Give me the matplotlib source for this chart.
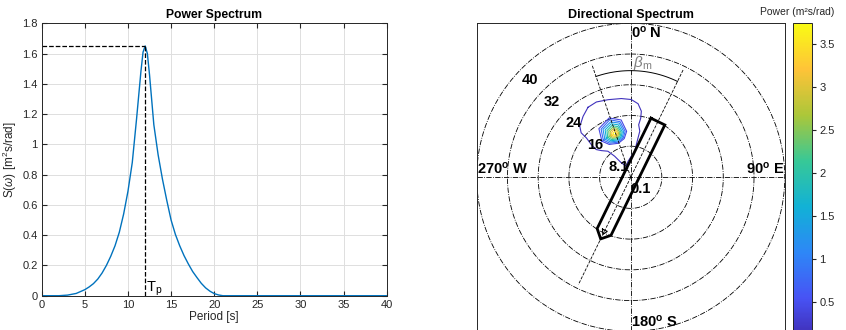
import numpy as np
import matplotlib
matplotlib.use("Agg")
import matplotlib.pyplot as plt
from matplotlib.colors import LinearSegmentedColormap, Normalize
from matplotlib.cm import ScalarMappable

plt.rcParams["font.family"] = ["Liberation Sans", "DejaVu Sans"]
plt.rcParams["mathtext.fontset"] = "custom"
plt.rcParams["mathtext.rm"] = "Liberation Sans"
plt.rcParams["mathtext.it"] = "Liberation Sans:italic"
plt.rcParams["mathtext.bf"] = "Liberation Sans:bold"

# 1D power spectrum
period = [0, 2, 3, 4, 5, 5.5, 6, 6.5, 7, 7.5, 8, 8.5, 9, 9.5, 10, 10.5, 11, 11.5,
          11.75, 12, 12.25, 12.5, 13, 13.5, 14, 14.5, 15, 15.5, 16, 16.5, 17, 17.5,
          18, 18.5, 19, 19.5, 20, 20.5, 21, 25, 30, 35, 40]
power = [0, 0, 0.004, 0.015, 0.04, 0.058, 0.08, 0.11, 0.15, 0.2, 0.26, 0.33, 0.42,
         0.54, 0.69, 0.88, 1.17, 1.48, 1.61, 1.65, 1.6, 1.46, 1.13, 0.93, 0.77,
         0.63, 0.50, 0.405, 0.33, 0.265, 0.21, 0.16, 0.12, 0.082, 0.052, 0.03,
         0.014, 0.005, 0, 0, 0, 0, 0]
Tp = 12.0
Sp = 1.65

# directional spectrum
ring_radii = [0.1, 8.08, 16.06, 24.04, 32.02, 40.0]
ring_labels = ["0.1", "8.1", "16", "24", "32", "40"]
wave_dir = 341
ship_heading = 26
guide_len = 31
arc_radius = 27.7

ship_u = [16.1, 16.1, -15.8, -17.8, -15.8, 16.1]
ship_w = [-2.0, 2.0, 2.0, 0.0, -2.0, -2.0]
mark_u = [-15.3, -15.3, -16.5, -15.3]
mark_w = [-0.7, 0.7, 0.0, -0.7]

outer_level = 0.15
outer_dir = [328.6, 335.5, 343.7, 353.2, 0.4, 5.7, 9.1, 9.6, 8.6, 11.1, 10.5, 9.7, 8.8,
             1.7, 350.4, 338.2, 326.9, 322.6, 318.8, 312.3, 308.8, 309.7, 311.6, 311.9,
             315.0, 322.0]
outer_per = [21.3, 21.5, 21.0, 20.6, 20.2, 19.2, 17.4, 15.6, 13.8, 12.2, 10.4, 8.6, 6.8,
             5.5, 4.2, 3.1, 4.5, 6.9, 9.0, 10.3, 11.5, 13.3, 15.4, 17.3, 18.7, 20.1]

inner_levels = [0.4, 0.8, 1.2, 1.6, 2.0, 2.4, 2.8, 3.2, 3.6]
inner_dir = [
    [321.4, 326.8, 340, 350.5, 354.9, 350.5, 340, 326.8],
    [323.6, 328.4, 340, 349.2, 353.1, 349.2, 340, 328.4],
    [325.9, 330.0, 340, 348.0, 351.3, 348.0, 340, 330.0],
    [328.1, 331.6, 340, 346.7, 349.5, 346.7, 340, 331.6],
    [330.1, 333.0, 340, 345.6, 347.9, 345.6, 340, 333.0],
    [332.2, 334.5, 340, 344.4, 346.3, 344.4, 340, 334.5],
    [334.0, 335.8, 340, 343.4, 344.8, 343.4, 340, 335.8],
    [335.9, 337.1, 340, 342.3, 343.3, 342.3, 340, 337.1],
    [337.8, 338.4, 340, 341.3, 341.8, 341.3, 340, 338.4],
]
inner_per = [
    [12.0, 15.1, 16.4, 15.1, 12.0, 10.2, 9.4, 10.2],
    [12.0, 14.7, 15.9, 14.7, 12.0, 10.4, 9.7, 10.4],
    [12.0, 14.4, 15.3, 14.4, 12.0, 10.6, 10.0, 10.6],
    [12.0, 14.0, 14.8, 14.0, 12.0, 10.8, 10.3, 10.8],
    [12.0, 13.6, 14.3, 13.6, 12.0, 11.0, 10.6, 11.0],
    [12.0, 13.3, 13.8, 13.3, 12.0, 11.2, 10.9, 11.2],
    [12.0, 13.0, 13.4, 13.0, 12.0, 11.4, 11.2, 11.4],
    [12.0, 12.7, 13.0, 12.7, 12.0, 11.6, 11.4, 11.6],
    [12.0, 12.4, 12.5, 12.4, 12.0, 11.8, 11.7, 11.8],
]
cbar_max = 3.745
cbar_ticks = [0.5, 1, 1.5, 2, 2.5, 3, 3.5]

parula = LinearSegmentedColormap.from_list("parula", [
    (0.2422, 0.1504, 0.6603), (0.2810, 0.3228, 0.9579), (0.1786, 0.5289, 0.9682),
    (0.0689, 0.6948, 0.8394), (0.2161, 0.7843, 0.5923), (0.6720, 0.7793, 0.2227),
    (0.9970, 0.7659, 0.2199), (0.9769, 0.9839, 0.0805)])
norm = Normalize(0, cbar_max)

axcol = (0.15, 0.15, 0.15)


def to_xy(d, r):
    d = np.radians(np.asarray(d, dtype=float))
    r = np.asarray(r, dtype=float)
    return r * np.sin(d), r * np.cos(d)


fig = plt.figure(figsize=(8.46, 3.30), dpi=100)

# ---- left: power spectrum
ax = fig.add_axes([0.0493, 0.1039, 0.4078, 0.8255])
ax.plot(period, power, color=(0, 0.447, 0.741), lw=1)
ax.plot([0, Tp], [Sp, Sp], "k--", lw=0.9)
ax.plot([Tp, Tp], [0, Sp], "k--", lw=0.9)
ax.text(Tp + 0.05, -0.015, r"T$_\mathrm{p}$", fontsize=10.5, ha="left", va="bottom")
ax.set_xlim(0, 40)
ax.set_ylim(0, 1.8)
ax.set_xticks(np.arange(0, 41, 5))
ax.set_yticks(np.arange(0, 1.81, 0.2))
ax.set_yticklabels(["0", "0.2", "0.4", "0.6", "0.8", "1", "1.2", "1.4", "1.6", "1.8"])
ax.grid(True, color=(0.87, 0.87, 0.87), lw=0.7)
ax.set_axisbelow(True)
ax.tick_params(direction="in", length=3.5, top=True, right=True, labelsize=8,
               color=axcol, labelcolor=axcol, pad=3)
for s in ax.spines.values():
    s.set_color(axcol)
    s.set_linewidth(0.7)
ax.set_xlabel("Period [s]", fontsize=8.5, labelpad=1, color=axcol)
ax.set_ylabel(r"S($\omega$) [m$^2$s/rad]", fontsize=8.5, labelpad=2, color=axcol)
ax.set_title("Power Spectrum", fontsize=8.7, fontweight="bold", pad=4)

# ---- right: directional spectrum
bx = fig.add_axes([0.5635, -0.0039, 0.3641, 0.9333])
bx.set_xlim(-40, 40)
bx.set_ylim(-40, 40)
bx.set_xticks([])
bx.set_yticks([])
for s in bx.spines.values():
    s.set_color(axcol)
    s.set_linewidth(0.7)
theta = np.linspace(0, 360, 361)
for r in ring_radii:
    x, y = to_xy(theta, np.full_like(theta, r))
    bx.plot(x, y, color="k", ls="-.", lw=0.6)
bx.plot([-40, 40], [0, 0], color="k", ls="-.", lw=0.6)
bx.plot([0, 0], [-40, 40], color="k", ls="-.", lw=0.6)

# contours
x, y = to_xy(outer_dir + outer_dir[:1], outer_per + outer_per[:1])
bx.plot(x, y, color=parula(norm(outer_level)), lw=0.8)
for lev, dd, pp in zip(inner_levels, inner_dir, inner_per):
    x, y = to_xy(dd + dd[:1], pp + pp[:1])
    bx.plot(x, y, color=parula(norm(lev)), lw=0.8)

# guide lines and arc
x, y = to_xy([wave_dir, wave_dir], [0, guide_len])
bx.plot(x, y, "k--", lw=0.6)
x, y = to_xy([ship_heading, ship_heading + 180], [guide_len, guide_len])
bx.plot(x, y, "k--", lw=0.6)
arc = np.linspace(wave_dir - 360, ship_heading, 60)
x, y = to_xy(arc, np.full_like(arc, arc_radius))
bx.plot(x, y, "k-", lw=0.7)
bx.text(*to_xy(6, 29.8), r"$\beta_\mathrm{m}$", color=(0.5, 0.5, 0.5), fontsize=11,
        ha="center", va="center")

# ship
h = np.radians(ship_heading)
for uu, ww, lw in [(ship_u, ship_w, 2.0), (mark_u, mark_w, 0.8)]:
    uu = np.asarray(uu)
    ww = np.asarray(ww)
    bx.plot(uu * np.sin(h) + ww * np.cos(h), uu * np.cos(h) - ww * np.sin(h),
            color="k", lw=lw, solid_joinstyle="miter")

# ring labels
for r, lab in zip(ring_radii, ring_labels):
    bx.text(-r * np.sqrt(0.5), r * np.sqrt(0.5) - 1.2, lab, fontsize=10.5,
            fontweight="bold", ha="left", va="top")
bx.text(0, 39.6, r"0$^\mathbf{o}$ N", fontsize=10.5, fontweight="bold", ha="left", va="top")
bx.text(39.8, 0.3, r"90$^\mathbf{o}$ E", fontsize=10.5, fontweight="bold", ha="right", va="bottom")
bx.text(-39.8, 0.3, r"270$^\mathbf{o}$ W", fontsize=10.5, fontweight="bold", ha="left", va="bottom")
bx.text(0, -39.6, r"180$^\mathbf{o}$ S", fontsize=10.5, fontweight="bold", ha="left", va="bottom")
bx.set_title("Directional Spectrum", fontsize=9, fontweight="bold", pad=4)

# colorbar
cax = fig.add_axes([0.9377, -0.0442, 0.02246, 0.9736])
cb = fig.colorbar(ScalarMappable(norm=norm, cmap=parula), cax=cax, ticks=cbar_ticks)
cb.ax.set_yticklabels(["0.5", "1", "1.5", "2", "2.5", "3", "3.5"])
cb.outline.set_linewidth(0.7)
cb.outline.set_edgecolor(axcol)
cax.tick_params(direction="out", length=3, labelsize=8, color=axcol, labelcolor=axcol, pad=2)
fig.text(797 / 846, 1 - 12 / 330, "Power (m\u00b2s/rad)", fontsize=7.5, ha="center",
         va="center", color=axcol)

fig.savefig("out.png", dpi=100)
